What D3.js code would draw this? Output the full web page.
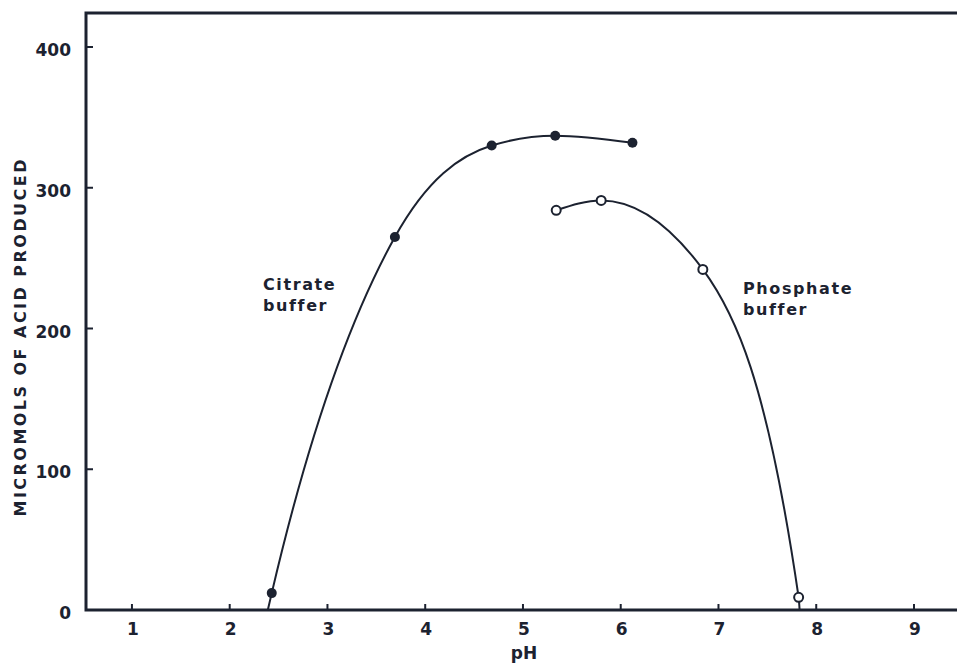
<!DOCTYPE html>
<html lang="en">
<head>
<meta charset="UTF-8">
<title>Acid produced vs pH</title>
<script src="https://d3js.org/d3.v7.min.js"></script>
<style>
    body { margin: 0; background: #fff; }
    svg text { font-family: "DejaVu Sans", sans-serif; font-weight: bold; fill: #1c2230; }
</style>
</head>
<body>
<div id="chart"></div>
<script>
// measured points
const citratePH = [2.43, 3.69, 4.68, 5.33, 6.12];
const citrateVal = [12, 265, 330, 337, 332];
const phosphatePH = [5.34, 5.80, 6.84, 7.82];
const phosphateVal = [284, 291, 242, 9];

// where the drawn curves meet the x axis
const citrateZeroPH = 2.39;
const phosphateZeroPH = 7.83;

const xTicks = [1, 2, 3, 4, 5, 6, 7, 8, 9];
const yTicks = [0, 100, 200, 300, 400];

const width = 957, height = 663;
const ink = "#1c2230";
const frameL = 86, frameT = 13, frameB = 610, frameR = 957;

const x = d3.scaleLinear().domain([0.53, 9.44]).range([frameL, frameR]);
const y = d3.scaleLinear().domain([0, 400]).range([frameB, 47]);

const svg = d3.select("#chart").append("svg")
    .attr("width", width)
    .attr("height", height);

// frame: left, top and bottom lines
svg.append("path")
    .attr("d", `M${frameR},${frameT}H${frameL}V${frameB}H${frameR}`)
    .attr("fill", "none")
    .attr("stroke", ink)
    .attr("stroke-width", 3);

// x ticks (inward)
const xAxis = svg.append("g");
xAxis.selectAll("line").data(xTicks).enter().append("line")
    .attr("x1", d => x(d)).attr("x2", d => x(d))
    .attr("y1", frameB).attr("y2", frameB - 6)
    .attr("stroke", ink).attr("stroke-width", 2);
xAxis.selectAll("text").data(xTicks).enter().append("text")
    .attr("x", d => x(d) + 1).attr("y", 635)
    .attr("text-anchor", "middle")
    .attr("font-size", 17)
    .text(d => d);

svg.append("text")
    .attr("x", x(5) + 1).attr("y", 659)
    .attr("text-anchor", "middle")
    .attr("font-size", 17)
    .text("pH");

// y ticks (inward)
const yAxis = svg.append("g");
yAxis.selectAll("line").data(yTicks.filter(d => d > 0)).enter().append("line")
    .attr("x1", frameL).attr("x2", frameL + 7)
    .attr("y1", d => y(d)).attr("y2", d => y(d))
    .attr("stroke", ink).attr("stroke-width", 2);
yAxis.selectAll("text").data(yTicks).enter().append("text")
    .attr("x", 71).attr("y", d => y(d) + 9)
    .attr("text-anchor", "end")
    .attr("font-size", 17)
    .text(d => d);

svg.append("text")
    .attr("transform", `translate(26,${338}) rotate(-90)`)
    .attr("text-anchor", "middle")
    .attr("font-size", 16)
    .attr("textLength", 357)
    .attr("lengthAdjust", "spacing")
    .text("MICROMOLS  OF  ACID  PRODUCED");

// curves through the points, running down to the axis
const smooth = d3.line()
    .x(d => x(d[0]))
    .y(d => y(d[1]))
    .curve(d3.curveMonotoneX);

const citrateCurve = [[citrateZeroPH, 0]].concat(d3.zip(citratePH, citrateVal));
const phosphateCurve = d3.zip(phosphatePH, phosphateVal).concat([[phosphateZeroPH, 0]]);

const curves = svg.append("g")
    .attr("fill", "none").attr("stroke", ink).attr("stroke-width", 2);
curves.append("path").attr("d", smooth(citrateCurve));
curves.append("path").attr("d", smooth(phosphateCurve));

// points
svg.append("g").selectAll("circle")
    .data(d3.zip(citratePH, citrateVal))
    .enter().append("circle")
    .attr("cx", d => x(d[0])).attr("cy", d => y(d[1]))
    .attr("r", 5)
    .attr("fill", ink);

svg.append("g").selectAll("circle")
    .data(d3.zip(phosphatePH, phosphateVal))
    .enter().append("circle")
    .attr("cx", d => x(d[0])).attr("cy", d => y(d[1]))
    .attr("r", 4.5)
    .attr("fill", "#fff")
    .attr("stroke", ink)
    .attr("stroke-width", 2);

// labels
function note(px, py, lines) {
    lines.forEach((s, i) => {
        svg.append("text")
            .attr("x", px).attr("y", py + i * 21)
            .attr("font-size", 16)
            .attr("letter-spacing", 1.6)
            .text(s);
    });
}
note(263, 290, ["Citrate", "buffer"]);
note(743, 294, ["Phosphate", "buffer"]);
</script>
</body>
</html>
